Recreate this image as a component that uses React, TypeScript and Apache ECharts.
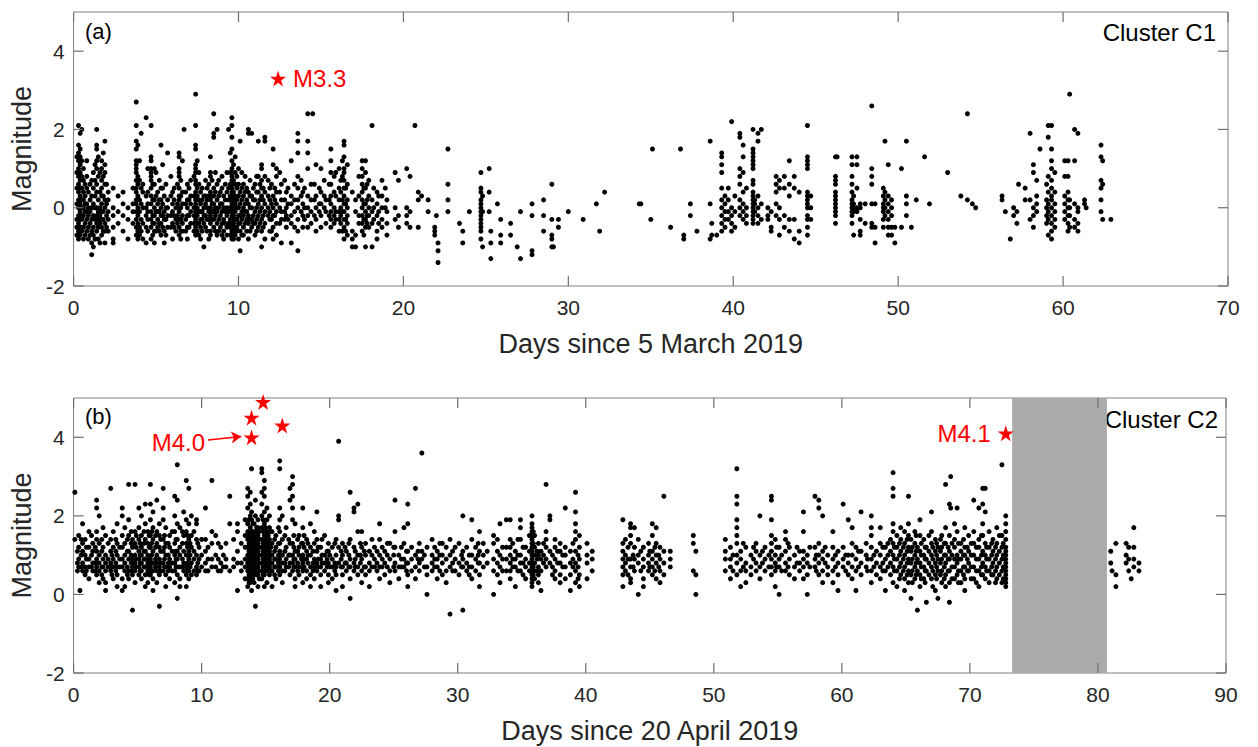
import React, { useEffect, useRef } from "react";
import * as echarts from "echarts";

// Each burst: [day, magnitude, magnitude, ...]
const burstsA: number[][] = [
  [0.2, 1.3, 0.9, 0.5, 0.1, -0.3, -0.5, -0.7],
  [0.3, 2.1, 1.6, 1.4, 1.2, 1.0, 0.8, 0.6, 0.4, 0.2, 0.0, -0.2, -0.4, -0.6, -0.8],
  [0.4, 1.9, 1.5, 1.3, 1.1, 0.9, 0.7, 0.5, 0.3, 0.1, -0.1, -0.3, -0.5, -0.7],
  [0.5, 2.0, 1.2, 0.8, 0.5, 0.2, 0.0, -0.2, -0.3, -0.5, -0.6],
  [0.6, 1.0, 0.7, 0.4, 0.2, 0.0, -0.2, -0.5, -0.8],
  [0.7, 0.6, 0.3, 0.1, -0.1, -0.4, -0.7],
  [0.8, 1.2, 0.8, 0.5, 0.1, -0.1, -0.3, -0.6],
  [0.9, 0.4, 0.0, -0.2, -0.5, -0.8],
  [1.0, 0.6, 0.2, -0.1, -0.4, -0.7],
  [1.1, 0.7, 0.3, 0.0, -0.3, -0.6, -0.9, -1.2],
  [1.2, 0.9, 0.5, 0.1, -0.2, -0.5, -0.7, -1.0],
  [1.3, 1.1, 0.7, 0.3, 0.0, -0.3, -0.8],
  [1.4, 2.0, 1.6, 1.5, 1.2, 1.0, 0.6, 0.4, 0.0, -0.2, -0.4, -0.6],
  [1.5, 1.3, 0.8, 0.2, -0.1, -0.3, -0.5, -0.8],
  [1.6, 0.9, 0.4, 0.0, -0.2, -0.4, -0.9],
  [1.7, 1.2, 1.0, 0.7, 0.5, 0.3, 0.1, -0.1, -0.3, -0.5, -0.7],
  [1.8, 1.4, 0.8, 0.3, -0.1, -0.3, -0.6],
  [1.9, 1.7, 1.1, 0.9, 0.6, 0.2, 0.0, -0.4, -0.6, -0.9],
  [2.0, 0.6, 0.1, -0.2, -0.5],
  [2.1, 0.4, 0.2, -0.1, -0.3, -0.6],
  [2.4, 0.5, 0.0, -0.2, -0.5, -0.8, -0.9],
  [2.7, 0.3, -0.1, -0.4],
  [3.0, 0.4, 0.1, -0.2, -0.6],
  [3.3, 0.0, -0.3, -0.8],
  [3.6, 0.5, 0.1, -0.1, -0.4],
  [3.8, 2.7, 2.1, 1.7, 1.5, 1.2, 1.1, 1.0, 0.9, 0.7, 0.5, 0.4, 0.2, 0.1, -0.1, -0.3, -0.5, -0.7],
  [3.9, 1.6, 0.8, 0.6, 0.3, 0.0, -0.2, -0.4, -0.6, -0.8],
  [4.0, 1.2, 0.7, 0.2, -0.1, -0.5, -0.7],
  [4.1, 1.9, 0.5, 0.1, -0.3, -0.6],
  [4.2, 0.6, 0.4, 0.0, -0.4, -0.8],
  [4.4, 2.3, 0.3, 0.0, -0.2, -0.5, -0.9],
  [4.5, 1.0, 0.4, 0.1, -0.1, -0.3, -0.6],
  [4.7, 2.1, 1.3, 1.2, 1.0, 0.9, 0.8, 0.7, 0.5, 0.3, 0.1, -0.1, -0.3, -0.5, -0.8],
  [4.8, 0.6, 0.2, -0.2, -0.4, -0.7],
  [4.9, 1.0, 0.6, 0.2, 0.0, -0.2, -0.4, -0.6, -0.9],
  [5.0, 0.9, 0.3, -0.1, -0.6],
  [5.1, 0.4, 0.1, -0.1, -0.3, -0.5],
  [5.2, 0.7, 0.2, -0.1, -0.4, -0.6],
  [5.3, 1.6, 0.5, 0.2, 0.0, -0.2, -0.4, -0.7],
  [5.4, 1.1, 0.5, 0.1, -0.2, -0.5],
  [5.5, 0.3, -0.1, -0.3, -0.6, -0.9],
  [5.6, 0.6, 0.0, -0.3, -0.7],
  [5.7, 1.4, 0.2, 0.0, -0.2, -0.5],
  [5.9, 0.8, 0.3, -0.2, -0.5],
  [6.0, 0.4, 0.1, -0.1, -0.4, -0.8],
  [6.1, 0.5, 0.2, -0.2, -0.5],
  [6.2, 0.0, -0.3, -0.6],
  [6.3, 0.6, 0.1, -0.2, -0.4],
  [6.4, 1.4, 1.3, 1.0, 0.9, 0.8, 0.5, 0.3, 0.2, 0.0, -0.1, -0.3, -0.5, -0.7],
  [6.5, 0.7, 0.3, 0.0, -0.3, -0.6, -0.8],
  [6.6, 1.2, 0.4, 0.1, -0.2, -0.4, -0.6],
  [6.7, 2.0],
  [6.8, 0.4, 0.1, -0.3, -0.6],
  [6.9, 0.6, 0.2, 0.0, -0.2, -0.5, -0.8],
  [7.0, 0.5, 0.2, -0.2, -0.5],
  [7.1, 0.7, 0.3, 0.1, -0.1, -0.4],
  [7.3, 0.8, 0.3, 0.0, -0.2, -0.4, -0.6],
  [7.4, 2.9, 2.1, 1.6, 1.5, 1.1, 1.0, 0.9, 0.7, 0.6, 0.4, 0.2, 0.1, -0.1, -0.3, -0.5, -0.7],
  [7.5, 1.2, 0.5, 0.3, 0.0, -0.2, -0.4, -0.6],
  [7.6, 0.9, 0.6, 0.2, -0.1, -0.4, -0.7],
  [7.7, 0.4, 0.1, -0.1, -0.3, -0.5, -0.8],
  [7.8, 0.5, 0.2, -0.1, -0.3, -0.6],
  [7.9, 0.3, 0.0, -0.2, -0.4, -1.0],
  [8.0, 0.7, 0.3, 0.1, -0.2, -0.5],
  [8.1, 0.5, 0.2, 0.0, -0.3, -0.6],
  [8.2, 0.6, 0.3, -0.1, -0.3, -0.8],
  [8.3, 1.3, 0.9, 0.8, 0.4, 0.2, 0.0, -0.2, -0.4, -0.6, -0.7],
  [8.4, 0.7, 0.3, 0.1, -0.1, -0.3],
  [8.5, 2.4, 1.9, 1.8, 0.5, 0.3, 0.1, -0.1, -0.3, -0.5],
  [8.6, 0.9, 0.4, 0.0, -0.2, -0.6],
  [8.7, 2.0, 0.6, 0.2, -0.1, -0.4, -0.7],
  [8.8, 0.7, 0.3, 0.0, -0.3, -0.6],
  [8.9, 0.4, 0.1, -0.2, -0.5],
  [9.0, 0.8, 0.5, 0.1, -0.1, -0.4, -0.7],
  [9.1, 0.3, 0.0, -0.3, -0.6, -0.8],
  [9.2, 0.6, 0.2, -0.1, -0.4],
  [9.3, 0.9, 0.4, 0.0, -0.2, -0.5, -0.7],
  [9.4, 2.0, 0.5, 0.2, -0.1, -0.4],
  [9.5, 1.4, 0.9, 0.6, 0.3, 0.0, -0.3, -0.5, -0.7],
  [9.6, 2.3, 2.1, 1.8, 1.5, 1.2, 1.0, 0.9, 0.8, 0.7, 0.6, 0.5, 0.4, 0.3, 0.2, 0.1, 0.0, -0.1, -0.2, -0.3, -0.4, -0.5, -0.6, -0.7, -0.8],
  [9.7, 1.1, 0.7, 0.4, 0.2, 0.0, -0.2, -0.4, -0.6, -0.8],
  [9.8, 1.3, 0.9, 0.6, 0.3, 0.1, -0.1, -0.3, -0.5, -0.7],
  [9.9, 0.8, 0.5, 0.2, 0.0, -0.3, -0.5, -0.6],
  [10.0, 1.0, 0.6, 0.3, 0.0, -0.2, -0.4, -0.8],
  [10.1, 1.7, 0.4, 0.1, -0.2, -0.4, -0.6, -1.1],
  [10.2, 0.9, 0.5, 0.2, -0.1, -0.3, -0.7],
  [10.3, 0.6, 0.3, 0.0, -0.2, -0.5, -0.7],
  [10.4, 0.8, 0.4, 0.1, -0.1, -0.4],
  [10.5, 0.5, 0.2, -0.1, -0.3, -0.6],
  [10.6, 2.0, 1.9, 0.4, 0.1, -0.2, -0.4, -0.8],
  [10.7, 0.7, 0.3, 0.0, -0.3, -0.6],
  [10.8, 1.9, 0.3, 0.0, -0.3, -0.5],
  [10.9, 0.5, 0.2, -0.2, -0.4],
  [11.0, 0.6, 0.2, -0.1, -0.4, -0.7],
  [11.1, 0.8, 0.4, 0.0, -0.3, -0.6],
  [11.2, 1.7, 0.8, 0.4, 0.1, -0.2, -0.5],
  [11.3, 0.6, 0.2, -0.1, -0.4],
  [11.4, 1.1, 1.0, 0.7, 0.5, 0.3, 0.0, -0.3, -0.6, -1.0],
  [11.5, 0.5, 0.2, -0.2, -0.5],
  [11.6, 1.8, 1.7, 0.8, 0.4, 0.1, -0.1, -0.4, -0.8],
  [11.8, 0.7, 0.3, 0.0, -0.2],
  [11.9, 0.5, 0.2, -0.1, -0.3, -0.6],
  [12.0, 0.6, 0.1, -0.3, -0.6],
  [12.1, 1.5, 1.1, 0.3, 0.0, -0.2, -0.5, -0.8],
  [12.2, 0.5, 0.2, -0.2],
  [12.3, 1.0, 0.8, 0.4, 0.1, -0.1, -0.4, -0.7],
  [12.5, 0.9, 0.4, 0.0, -0.4],
  [12.6, 0.6, 0.2, -0.1, -0.3, -0.9],
  [12.8, 0.7, 0.2, -0.1, -0.3],
  [12.9, 0.4, 0.0, -0.2, -0.5],
  [13.0, 0.5, 0.1, -0.3],
  [13.2, 1.2, 0.3, 0.1, -0.2, -0.4, -0.9],
  [13.4, 0.6, 0.2, -0.1, -0.5],
  [13.6, 1.9, 1.7, 1.4, 0.8, 0.5, 0.2, 0.0, -0.3, -0.6, -1.1],
  [13.8, 0.7, 0.3, -0.1],
  [13.9, 0.4, 0.1, -0.2, -0.5],
  [14.0, 0.5, 0.0, -0.3],
  [14.2, 2.4, 1.7, 1.4, 1.0, 0.3, 0.0, -0.2, -0.5],
  [14.4, 0.6, 0.2, -0.1, -0.4],
  [14.5, 2.4],
  [14.6, 0.6, 0.2, -0.2],
  [14.7, 1.1, 0.3, 0.0, -0.3, -0.6],
  [14.9, 0.5, 0.1, -0.1],
  [15.0, 1.0, 0.4, 0.1, -0.2, -0.5],
  [15.2, 0.7, 0.3, 0.0],
  [15.3, 0.2, -0.1, -0.4],
  [15.5, 0.6, 0.2, -0.2],
  [15.6, 1.5, 1.2, 0.9, 0.6, 0.3, 0.1, -0.1, -0.3, -0.5],
  [15.8, 0.8, 0.4, 0.0, -0.2, -0.4],
  [15.9, 0.9, 0.3, -0.1, -0.3],
  [16.1, 1.0, 0.5, 0.2, -0.1, -0.3, -0.6],
  [16.2, 0.7, 0.4, 0.0, -0.2, -0.4],
  [16.3, 1.2, 0.8, 0.2, -0.1, -0.6],
  [16.4, 1.7, 1.6, 1.3, 1.0, 0.9, 0.7, 0.5, 0.3, 0.1, -0.1, -0.3, -0.5, -0.8],
  [16.5, 0.5, 0.1, -0.3, -0.6],
  [16.6, 1.1, 0.6, 0.2, 0.0, -0.2, -0.4, -0.7],
  [16.9, 0.4, -0.6, -0.8, -1.0],
  [17.1, 0.2, -0.1, -0.7, -1.0],
  [17.3, 0.8, 0.3, -0.2, -0.4],
  [17.5, 1.2, 1.0, 0.8, 0.6, 0.4, 0.2, 0.0, -0.2, -0.4, -0.6],
  [17.6, 0.5, 0.1, -0.3, -0.7],
  [17.7, 1.2, 0.9, 0.5, 0.1, -0.1, -0.3, -0.5, -1.0],
  [17.8, 0.6, 0.2, -0.2, -0.4],
  [17.9, 0.7, 0.3, 0.0, -0.2, -0.5],
  [18.1, 2.1, 0.2, -0.1, -0.4, -1.0],
  [18.2, 0.5, 0.0, -0.3],
  [18.4, 0.4, 0.1, -0.2, -0.6, -0.8],
  [18.5, 0.3, -0.1, -0.4],
  [18.7, 0.7, 0.3, 0.0, -0.3, -0.5],
  [18.9, 0.5, 0.0],
  [19.0, 0.2, -0.1, -0.4, -0.7],
  [19.5, 0.9, 0.0, -0.3],
  [19.7, 0.7, -0.2, -0.5],
  [20.2, 1.0, 0.0, -0.2, -0.4],
  [20.4, 0.8, -0.1, -0.5],
  [20.7, 2.1],
  [20.9, 0.4, 0.2, -0.5],
  [21.1, 0.3],
  [21.5, 0.2, -0.1],
  [21.9, -0.5, -0.6, -0.7],
  [22.0, -0.2],
  [22.1, -0.9, -1.1, -1.4],
  [22.7, 1.5, 0.6, 0.2, -0.1],
  [23.4, -0.4],
  [23.6, -0.6, -0.9],
  [24.0, -0.1],
  [24.7, 0.9, 0.5, 0.4, 0.2, 0.1, 0.0, -0.1, -0.2, -0.3, -0.4, -0.5, -0.6, -0.8],
  [24.8, 0.3, -0.1, -1.0],
  [25.2, 1.0, 0.4, -0.1],
  [25.3, -0.6, -0.9, -1.3],
  [25.7, 0.1],
  [25.9, -0.3, -0.7, -0.9],
  [26.5, -0.4, -0.7],
  [26.9, -1.0],
  [27.1, -0.1, -1.3],
  [27.8, 0.1, -0.2, -1.1, -1.2],
  [28.5, 0.2, -0.2, -0.6],
  [29.0, 0.6, -0.3, -0.7, -0.8, -1.0],
  [29.1, -1.0],
  [29.4, -0.3, -0.5],
  [30.0, -0.1],
  [30.9, -0.3],
  [31.7, 0.1],
  [31.9, -0.6],
  [32.2, 0.4],
  [34.3, 0.1],
  [34.4, 0.1],
  [35.0, -0.3],
  [35.1, 1.5],
  [36.2, -0.5],
  [36.8, 1.5],
  [37.0, -0.7, -0.8],
  [37.4, 0.1, -0.2],
  [37.8, -0.6],
  [38.6, 1.7, 0.1, -0.8],
  [38.7, -0.4, -0.7],
  [39.0, -0.7],
  [39.3, 1.4, 1.3, 1.1, 0.9, 0.5, 0.2, 0.0, -0.2, -0.4, -0.6],
  [39.5, 0.3, 0.1, -0.1, -0.3, -0.5],
  [39.7, 0.5, 0.2, -0.1, -0.3],
  [39.9, 2.2, 0.0, -0.2, -0.4, -0.6],
  [40.1, 0.3, -0.1, -0.5],
  [40.4, 1.9, 1.8, 1.0, 0.8, 0.6, 0.2, 0.0, -0.2],
  [40.6, 1.6, 1.3, 0.9, 0.4, 0.1, -0.1, -0.3],
  [40.8, 0.5, 0.0, -0.2, -0.4],
  [41.2, 2.0, 1.5, 1.4, 1.3, 1.2, 1.1, 1.0, 0.7, 0.6, 0.4, 0.3, 0.2, 0.1, 0.0, -0.1, -0.2, -0.3, -0.4],
  [41.3, 0.2, 0.1, -0.1],
  [41.5, 1.9, 1.7, 0.3, 0.0, -0.2, -0.4],
  [41.7, 2.0, 0.1, -0.3],
  [42.1, 0.0, -0.2, -0.3],
  [42.3, -0.1, -0.5, -0.6],
  [42.6, 0.8, 0.6, 0.4, 0.1, -0.2],
  [42.8, 0.7, 0.5, 0.0, -0.3, -0.7],
  [43.1, 0.8, 0.5, -0.2, -0.5],
  [43.4, 1.2, 0.6, 0.3, -0.3, -0.6],
  [43.7, 0.8, 0.5, -0.3, -0.8],
  [44.0, 0.4, -0.6, -0.9],
  [44.5, 2.1, 1.3, 1.2, 1.1, 1.0, 0.4, 0.3, 0.2, 0.1, 0.0, -0.2, -0.3, -0.5, -0.7],
  [44.7, 0.3, 0.0, -0.3],
  [46.2, 1.3, 0.8, 0.7, 0.6, 0.4, 0.3, 0.2, 0.1, 0.0, -0.1, -0.2, -0.4],
  [46.3, 1.3],
  [47.2, 1.3, 1.1, 0.8, 0.6, 0.4, 0.2, 0.1, 0.0, -0.1, -0.2, -0.4],
  [47.3, 0.3, 0.1, 0.0, -0.1, -0.7],
  [47.5, 1.3, 1.1, 0.5, 0.0, -0.1],
  [47.7, 0.1, 0.0, -0.3, -0.6, -0.7],
  [48.0, 0.1, -0.4],
  [48.4, 2.6, 1.0, 0.8, 0.6, 0.1, -0.4, -0.5],
  [48.6, 0.1, -0.5, -0.9],
  [49.1, 0.5, 0.3, 0.1, 0.0, -0.1, -0.3, -0.5],
  [49.2, 1.7, 0.4, 0.2, 0.0, -0.2],
  [49.4, 1.1, 0.3, 0.1, -0.1, -0.3, -0.5, -0.7],
  [49.6, 0.2, 0.0, -0.2, -0.5, -0.7],
  [49.8, -0.5, -0.9],
  [50.2, 1.0, -0.5],
  [50.5, 1.7, 0.3, 0.1, -0.2],
  [50.8, -0.5],
  [51.1, 0.2],
  [51.6, 1.3],
  [51.9, 0.1],
  [53.0, 0.9],
  [53.8, 0.3],
  [54.2, 2.4, 0.2],
  [54.5, 0.1],
  [54.7, 0.0],
  [56.3, 0.3, 0.2],
  [56.5, -0.1],
  [56.8, -0.8],
  [57.0, 0.0, -0.2],
  [57.2, -0.1, -0.4],
  [57.3, 0.6],
  [57.7, 0.5, 0.2],
  [58.0, 1.9, 0.2, -0.3],
  [58.2, 1.1, 0.9, 0.0, -0.2, -0.5],
  [58.4, 0.7, 0.3, 0.1, -0.1],
  [58.6, 1.5],
  [59.0, 0.6, 0.2, 0.0, -0.2, -0.4],
  [59.1, 2.1, 1.8, 0.8, 0.4, 0.1, -0.1, -0.3, -0.7],
  [59.3, 2.1, 1.5, 1.2, 1.0, 0.7, 0.5, 0.3, 0.2, 0.0, -0.2, -0.4, -0.6, -0.8],
  [59.5, 0.9, 0.4, 0.1, -0.1, -0.3, -0.5],
  [60.1, 1.2, 0.8, 0.3, 0.1, -0.1, -0.3],
  [60.3, 1.2, 0.8, 0.4, 0.2, 0.0, -0.2, -0.4, -0.6],
  [60.4, 2.9, 0.2, 0.0, -0.2, -0.5],
  [60.7, 2.0, 1.2, 0.1, -0.3, -0.5],
  [60.9, 1.9, 0.0, -0.1, -0.4, -0.6],
  [61.3, 0.2, 0.1],
  [61.4, 0.0],
  [62.3, 1.6, 1.3, 0.7, 0.5, 0.2, -0.1],
  [62.4, 1.2, 0.6, -0.3],
  [62.9, -0.3],
];

const burstsB: number[][] = [
  [0.1, 2.6, 1.4],
  [0.3, 1.1, 0.8, 0.6],
  [0.4, 1.5, 1.2, 0.9, 0.7],
  [0.5, 0.1],
  [0.6, 1.4, 1.0, 0.7],
  [0.7, 1.8, 1.3, 1.1, 0.8, 0.6],
  [0.9, 1.4, 1.0, 0.7, 0.5],
  [1.0, 1.2, 0.9, 0.6],
  [1.2, 1.6, 1.2, 0.9, 0.7, 0.4],
  [1.4, 1.5, 1.0, 0.7],
  [1.5, 1.3, 1.1, 0.8, 0.6],
  [1.7, 1.2, 0.8, 0.6],
  [1.8, 2.4, 2.2, 1.6, 1.4, 1.1, 0.9, 0.7, 0.5],
  [2.0, 2.0, 1.3, 1.0, 0.8, 0.6, 0.3],
  [2.2, 1.4, 1.1, 0.7, 0.5],
  [2.3, 1.7, 1.2, 0.9, 0.7, 0.4],
  [2.5, 1.5, 1.0, 0.8, 0.6, 0.3, 0.1],
  [2.7, 1.3, 0.9, 0.7],
  [2.9, 2.7, 1.4, 1.1, 0.8, 0.6],
  [3.0, 1.0, 0.7, 0.5],
  [3.1, 1.6, 1.2, 0.9, 0.7, 0.4],
  [3.3, 1.4, 1.1, 0.8, 0.6],
  [3.4, 1.8, 1.3, 1.0, 0.7, 0.5, 0.2],
  [3.6, 1.2, 0.9, 0.7],
  [3.8, 2.2, 2.0, 1.5, 1.2, 0.9, 0.7, 0.4, 0.1],
  [4.0, 1.7, 1.3, 1.0, 0.8, 0.6, 0.2],
  [4.2, 1.4, 1.1, 0.7, 0.5],
  [4.3, 2.8, 1.9, 1.5, 1.1, 0.9, 0.6, 0.4],
  [4.5, 1.6, 1.3, 1.0, 0.8, 0.6],
  [4.6, 1.4, 1.2, 0.9, 0.7, 0.5, -0.4],
  [4.8, 2.8, 1.6, 1.3, 1.0, 0.8, 0.6, 0.3],
  [4.9, 1.5, 1.2, 0.9, 0.7],
  [5.1, 2.2, 1.7, 1.4, 1.1, 0.9, 0.7, 0.5],
  [5.2, 1.3, 1.0, 0.8, 0.6],
  [5.3, 2.0, 1.5, 1.2, 1.0, 0.8, 0.6, 0.4],
  [5.5, 1.6, 1.3, 1.1, 0.9, 0.7],
  [5.6, 2.3, 1.8, 1.4, 1.1, 0.9, 0.7, 0.5, 0.2],
  [5.8, 1.6, 1.3, 1.0, 0.8, 0.6, 0.3],
  [5.9, 1.5, 1.2, 0.9, 0.7, 0.5],
  [6.0, 2.8, 2.3, 1.9, 1.5, 1.2, 0.9, 0.7, 0.5],
  [6.1, 1.6, 1.3, 1.0, 0.8, 0.6],
  [6.2, 2.1, 1.7, 1.4, 1.1, 0.8, 0.6, 0.4, 0.1],
  [6.4, 1.5, 1.2, 0.9, 0.7],
  [6.5, 2.4, 1.6, 1.3, 1.0, 0.8, 0.6, 0.3],
  [6.7, 1.8, 1.5, 1.2, 0.9, 0.7, 0.5, -0.3],
  [6.8, 1.4, 1.1, 0.8, 0.6],
  [7.0, 2.7, 2.2, 1.9, 1.4, 1.1, 0.8, 0.6],
  [7.1, 1.5, 1.2, 0.9, 0.7],
  [7.2, 1.7, 1.3, 1.0, 0.7, 0.5, 0.2],
  [7.4, 1.3, 1.0, 0.8, 0.6],
  [7.5, 1.5, 1.2, 0.9, 0.7, 0.4],
  [7.7, 1.6, 1.1, 0.8, 0.6],
  [7.9, 2.5, 2.0, 1.6, 1.3, 1.0, 0.8, 0.6, 0.3],
  [8.0, 1.4, 1.1, 0.9, 0.7],
  [8.1, 3.3, 2.4, 1.8, 1.4, 1.1, 0.9, 0.7, 0.5, -0.1],
  [8.3, 1.7, 1.2, 1.0, 0.7, 0.4, 0.2],
  [8.5, 1.6, 1.3, 0.9, 0.7],
  [8.6, 2.1, 1.5, 1.1, 0.8, 0.6],
  [8.8, 2.9, 1.9, 1.6, 1.3, 1.0, 0.7, 0.5, 0.2],
  [8.9, 1.5, 1.2, 0.8, 0.6],
  [9.0, 2.7, 1.8, 1.4, 1.1, 0.9, 0.6, 0.4],
  [9.1, 1.3, 1.0, 0.7],
  [9.2, 2.0, 1.5, 1.2, 0.8, 0.5],
  [9.4, 1.6, 1.1, 0.9, 0.6],
  [9.6, 1.9, 1.8, 1.4, 1.0, 0.7, 0.5],
  [9.7, 1.3, 0.8, 0.6],
  [9.8, 1.2, 0.9, 0.6],
  [10.0, 1.4, 1.0, 0.7],
  [10.3, 2.2, 1.4, 1.1, 0.8, 0.6],
  [10.5, 1.2, 0.9, 0.6],
  [10.8, 2.9, 1.6, 1.3, 0.9, 0.7],
  [11.1, 1.5, 1.0, 0.7],
  [11.3, 1.3, 0.9, 0.6],
  [11.5, 1.2, 0.8, 0.6],
  [11.7, 1.0, 0.7],
  [11.9, 1.3, 0.9, 0.7],
  [12.2, 2.5, 1.8, 0.6],
  [12.5, 1.4, 0.9, 0.7],
  [12.8, 1.8, 1.6, 1.1, 0.8, 0.1],
  [13.1, 1.3, 0.8, 0.6],
  [13.4, 1.9, 1.5, 1.2, 0.9, 0.7, 0.4],
  [13.6, 2.7, 2.5, 2.2, 1.8, 1.6, 1.4, 1.2, 1.0, 0.8, 0.6, 0.4, 0.2],
  [13.7, 1.9, 1.5, 1.3, 1.1, 0.9, 0.7, 0.5, 0.3],
  [13.8, 2.6, 2.3, 2.0, 1.7, 1.5, 1.3, 1.1, 0.9, 0.7, 0.5, 0.3],
  [13.9, 3.2, 2.1, 1.9, 1.6, 1.4, 1.2, 1.0, 0.8, 0.6, 0.4, 0.1],
  [14.0, 1.8, 1.6, 1.4, 1.2, 1.0, 0.8, 0.6, 0.4],
  [14.1, 1.8, 1.5, 1.3, 1.1, 0.9, 0.7, 0.5, 0.3],
  [14.2, 2.4, 2.0, 1.6, 1.4, 1.2, 1.0, 0.8, 0.6, -0.3],
  [14.3, 1.7, 1.5, 1.3, 1.1, 0.9, 0.7, 0.5],
  [14.4, 1.9, 1.7, 1.5, 1.3, 1.1, 0.9, 0.7, 0.5, 0.2],
  [14.5, 1.6, 1.4, 1.2, 1.0, 0.8, 0.6, 0.4],
  [14.7, 3.2, 3.1, 2.6, 2.3, 2.0, 1.7, 1.4, 1.2, 1.0, 0.8, 0.6, 0.4],
  [14.8, 1.9, 1.6, 1.3, 1.1, 0.9, 0.7, 0.5],
  [14.9, 2.9, 2.7, 2.5, 2.1, 1.8, 1.5, 1.3, 1.1, 0.9, 0.7, 0.5, 0.2],
  [15.0, 1.7, 1.4, 1.2, 1.0, 0.8, 0.6],
  [15.1, 2.2, 1.9, 1.6, 1.4, 1.2, 1.0, 0.8, 0.6, 0.3],
  [15.2, 1.5, 1.3, 1.1, 0.9, 0.7],
  [15.3, 2.0, 1.7, 1.4, 1.1, 0.9, 0.7, 0.5],
  [15.4, 1.6, 1.2, 1.0, 0.8, 0.6],
  [15.5, 1.6, 1.3, 1.0, 0.8, 0.6, 0.2],
  [15.7, 1.4, 1.1, 0.9, 0.7, 0.5],
  [15.8, 1.5, 1.2, 0.9, 0.7, 0.4],
  [16.0, 1.7, 1.3, 1.0, 0.8, 0.6],
  [16.1, 3.4, 3.2, 2.2, 1.9, 1.6, 1.3, 1.1, 0.9, 0.7, 0.5],
  [16.3, 2.0, 1.4, 1.0, 0.8, 0.6, 0.3],
  [16.5, 1.5, 1.1, 0.8, 0.6],
  [16.6, 1.7, 1.2, 0.9, 0.7],
  [16.8, 1.4, 1.0, 0.7],
  [16.9, 2.7, 2.4, 1.3, 1.0, 0.8, 0.5],
  [17.1, 3.0, 2.8, 2.5, 2.2, 1.9, 1.3, 1.0, 0.8, 0.6],
  [17.2, 1.5, 1.2, 0.9, 0.7],
  [17.3, 1.8, 1.1, 0.9, 0.7, 0.4, 0.2],
  [17.5, 1.4, 1.1, 0.8, 0.6],
  [17.6, 1.5, 1.2, 1.0, 0.7, 0.5],
  [17.8, 1.3, 0.9, 0.7],
  [17.9, 2.2, 1.7, 1.3, 1.0, 0.8, 0.6, 0.3],
  [18.0, 1.5, 1.2, 0.9, 0.7],
  [18.2, 1.4, 1.1, 0.9, 0.6, 0.4],
  [18.3, 1.3, 1.0, 0.8],
  [18.5, 1.8, 1.2, 1.0, 0.7, 0.5, 0.2],
  [18.7, 1.1, 0.8, 0.6],
  [18.8, 1.6, 1.3, 0.9, 0.7, 0.4],
  [19.0, 2.1, 1.4, 1.1, 0.8, 0.6],
  [19.1, 1.2, 0.9, 0.7],
  [19.3, 1.2, 0.9, 0.7, 0.5, 0.2],
  [19.4, 1.4, 1.0, 0.8],
  [19.6, 1.5, 1.0, 0.8, 0.6],
  [19.8, 1.1, 0.9, 0.7],
  [19.9, 1.3, 1.1, 0.8, 0.5, 0.3],
  [20.0, 1.0, 0.7],
  [20.2, 1.2, 0.9, 0.7, 0.4],
  [20.4, 1.3, 0.8, 0.6],
  [20.5, 1.4, 1.0, 0.7, 0.5, 0.1],
  [20.7, 3.9, 2.0, 1.9, 1.2, 0.8],
  [20.9, 1.1, 0.9, 0.7],
  [21.0, 1.3, 1.0, 0.7, 0.5, 0.2],
  [21.2, 1.2, 0.8],
  [21.3, 1.1, 0.8, 0.6],
  [21.5, 1.3, 1.0, 0.7],
  [21.6, 2.6, 1.4, 0.9, 0.7, 0.4, -0.1],
  [21.9, 2.2, 2.1, 1.2, 0.8, 0.6],
  [22.0, 1.1, 0.9, 0.7],
  [22.2, 2.3, 1.6, 1.0, 0.7, 0.5],
  [22.4, 1.3, 1.0, 0.8],
  [22.5, 1.6, 1.2, 0.9, 0.6, 0.3],
  [22.7, 1.1, 0.7],
  [22.8, 1.3, 1.0, 0.7, 0.5],
  [23.1, 1.1, 0.8, 0.6, 0.2],
  [23.3, 1.4, 1.0, 0.7],
  [23.5, 1.2, 0.9, 0.7],
  [23.7, 1.1, 0.8, 0.6],
  [23.9, 1.8, 1.4, 1.0, 0.7, 0.4],
  [24.1, 1.2, 0.9, 0.7],
  [24.3, 1.1, 0.8, 0.5],
  [24.5, 1.3, 1.0, 0.7],
  [24.7, 1.3, 0.9, 0.6, 0.3],
  [25.0, 1.2, 1.0, 0.7],
  [25.1, 2.4, 1.6, 1.2, 0.8, 0.6],
  [25.4, 1.0, 0.7, 0.4],
  [25.6, 1.2, 0.9, 0.7],
  [25.8, 1.7, 1.3, 0.9, 0.7],
  [26.0, 1.1, 0.8, 0.6],
  [26.1, 2.3, 1.8, 1.1, 0.8, 0.5, 0.2],
  [26.4, 1.2, 0.9, 0.6],
  [26.7, 2.7, 1.0, 0.7, 0.4],
  [26.9, 1.1, 0.9],
  [27.0, 1.3, 0.8, 0.6],
  [27.2, 3.6, 1.1, 0.9],
  [27.4, 1.0, 0.7],
  [27.6, 1.2, 0.7, 0.5, 0.0],
  [28.0, 1.4, 1.0, 0.8, 0.6],
  [28.2, 1.2, 0.9, 0.7],
  [28.4, 1.1, 0.9, 0.7, 0.4],
  [28.6, 1.3, 1.0, 0.6],
  [28.8, 1.3, 1.0, 0.8, 0.5],
  [29.1, 1.2, 0.9, 0.6, 0.3],
  [29.4, 1.4, 1.0, 0.7, -0.5],
  [29.6, 1.1, 0.8, 0.6],
  [29.8, 1.2, 0.9, 0.6],
  [30.1, 1.3, 0.8, 0.5],
  [30.3, 1.0, 0.7],
  [30.4, 2.0, 1.1, 0.9, 0.7, -0.4],
  [30.7, 1.2, 0.8, 0.6],
  [30.9, 1.0, 0.7, 0.5],
  [31.1, 1.9, 1.4, 1.0, 0.7, 0.4],
  [31.4, 1.2, 0.9, 0.6],
  [31.6, 1.3, 1.0, 0.8],
  [31.7, 1.6, 1.1, 0.8, 0.5, 0.2],
  [32.0, 1.3, 1.0, 0.7],
  [32.3, 1.1, 0.8],
  [32.8, 1.5, 1.3, 0.9, 0.6, 0.0],
  [33.1, 1.4, 1.1, 0.8, 0.5],
  [33.3, 1.8, 1.0, 0.7, 0.3],
  [33.5, 1.2, 0.9, 0.6],
  [33.8, 1.9, 1.2, 0.9, 0.6],
  [34.1, 1.9, 1.4, 1.2, 1.0, 0.8, 0.6, 0.4],
  [34.3, 1.3, 0.9, 0.7],
  [34.5, 1.1, 0.9, 0.7, 0.2],
  [34.7, 1.4, 1.0, 0.6],
  [34.9, 1.9, 1.7, 1.4, 1.0, 0.8, 0.6],
  [35.1, 1.2, 0.8, 0.5],
  [35.3, 1.2, 0.9, 0.7, 0.4],
  [35.6, 1.5, 1.1, 0.8, 0.6],
  [35.8, 2.0, 1.8, 1.7, 1.6, 1.5, 1.4, 1.3, 1.2, 1.1, 1.0, 0.9, 0.8, 0.7, 0.6, 0.5, 0.4, 0.3, 0.2],
  [35.9, 1.6, 1.3, 1.0, 0.7, 0.5],
  [36.0, 1.5, 1.2, 1.0, 0.8, 0.6, 0.4],
  [36.2, 1.1, 0.9, 0.6],
  [36.3, 1.3, 1.0, 0.7, 0.5, 0.3],
  [36.5, 1.1, 0.9, 0.6, 0.1],
  [36.7, 1.3, 1.0, 0.8],
  [36.9, 2.8, 1.6, 1.4, 1.2, 0.9, 0.7],
  [37.2, 2.0, 1.9, 1.1, 0.8],
  [37.4, 1.0, 0.7, 0.5],
  [37.6, 1.4, 1.2, 0.9, 0.6, 0.4],
  [37.8, 1.1, 0.8],
  [38.0, 1.3, 1.1, 0.8, 0.5, 0.3],
  [38.2, 1.0, 0.7],
  [38.4, 2.2, 1.2, 1.0, 0.7, 0.4],
  [38.8, 1.1, 0.8, 0.5, 0.1],
  [39.0, 1.3, 0.9, 0.7],
  [39.2, 2.6, 2.1, 1.8, 1.6, 1.4, 1.1, 0.8, 0.6, 0.3],
  [39.4, 1.0, 0.7, 0.4],
  [39.5, 1.5, 1.2, 0.9, 0.5, 0.2],
  [40.1, 1.3, 1.0, 0.8, 0.4],
  [40.5, 1.1, 0.9, 0.6],
  [42.9, 1.9, 1.3, 1.1, 0.9, 0.7, 0.5, 0.2],
  [43.1, 1.4, 1.0, 0.8, 0.6],
  [43.3, 1.2, 0.9, 0.5],
  [43.5, 1.8, 1.7, 1.5, 1.3, 0.9, 0.7, 0.4, 0.3],
  [43.7, 1.0, 0.7],
  [43.8, 1.7, 1.2, 0.9, 0.6],
  [44.1, 1.4, 1.0, 0.8, 0.0],
  [44.3, 1.1, 0.6],
  [44.5, 1.2, 0.9, 0.7, 0.4, 0.2],
  [44.9, 1.3, 1.0, 0.8, 0.6],
  [45.0, 1.1, 0.7],
  [45.2, 1.8, 1.5, 1.1, 0.9, 0.7, 0.5],
  [45.4, 1.2, 0.6],
  [45.5, 1.7, 1.3, 1.0, 0.8, 0.4],
  [45.7, 1.0, 0.7],
  [45.8, 1.2, 0.9, 0.6, 0.3],
  [46.1, 2.5, 1.1, 0.8, 0.5],
  [46.6, 1.1, 0.9, 0.7],
  [48.4, 1.5, 1.3, 0.6],
  [48.6, 1.1, 0.5, 0.0],
  [50.9, 1.4, 1.1, 0.9, 0.6],
  [51.3, 1.2, 0.9, 0.7, 0.4],
  [51.5, 1.0, 0.6],
  [51.8, 3.2, 2.5, 2.3, 1.9, 1.7, 1.5, 1.3, 1.0, 0.8, 0.5],
  [52.1, 1.1, 0.9, 0.6, 0.2],
  [52.3, 1.3, 0.7],
  [52.5, 1.2, 0.8, 0.6, 0.3],
  [52.9, 1.0, 0.7, 0.5],
  [53.1, 1.2, 0.9],
  [53.3, 1.3, 1.1, 0.8, 0.6],
  [53.6, 2.0, 1.0, 0.7, 0.4],
  [53.8, 1.1, 0.8],
  [54.0, 1.2, 0.9, 0.6],
  [54.3, 1.0, 0.7],
  [54.5, 2.5, 2.4, 1.9, 1.5, 1.3, 1.1, 0.9, 0.7, 0.5],
  [54.8, 1.4, 1.0, 0.8, 0.6, 0.2],
  [54.9, 1.2, 0.7],
  [55.1, 1.2, 0.9, 0.7, 0.0],
  [55.3, 1.0, 0.6],
  [55.6, 1.6, 1.4, 1.1, 0.8, 0.6],
  [55.8, 1.3, 0.7],
  [55.9, 1.2, 0.9, 0.5],
  [56.3, 1.0, 0.7, 0.4],
  [56.5, 1.2, 0.8],
  [56.7, 1.1, 0.8, 0.6],
  [57.0, 2.1, 1.6, 1.1, 0.9, 0.7, 0.4],
  [57.3, 1.0, 0.8, 0.5, 0.0],
  [57.5, 1.2, 0.7],
  [57.9, 2.5, 1.2, 0.9, 0.7],
  [58.0, 1.0, 0.6],
  [58.2, 2.4, 2.2, 1.3, 1.0, 0.8, 0.5],
  [58.5, 2.0, 1.1, 0.9, 0.6, 0.3],
  [58.7, 1.2, 0.8],
  [58.9, 1.0, 0.7, 0.5],
  [59.3, 1.6, 1.2, 0.9, 0.6, 0.3],
  [59.5, 1.0, 0.7],
  [59.7, 1.1, 0.8, 0.5, 0.1],
  [60.1, 2.3, 1.2, 0.9, 0.7],
  [60.3, 1.0, 0.6],
  [60.5, 1.9, 1.0, 0.8, 0.5],
  [60.8, 1.7, 1.3, 1.0, 0.7, 0.4],
  [61.1, 1.2, 0.9, 0.6, 0.1],
  [61.3, 1.1, 0.7],
  [61.5, 2.1, 1.1, 0.8, 0.5],
  [61.9, 1.3, 1.0, 0.7],
  [62.0, 0.9, 0.6],
  [62.3, 2.0, 1.7, 1.5, 1.2, 0.9, 0.6, 0.3],
  [62.5, 1.0, 0.7],
  [62.7, 1.1, 0.8, 0.5],
  [63.0, 1.7, 1.3, 1.0, 0.7, 0.4],
  [63.2, 1.2, 0.8, 0.6],
  [63.4, 1.2, 0.9, 0.6, 0.1],
  [63.6, 1.3, 1.0, 0.7],
  [63.8, 1.4, 1.1, 0.8, 0.5],
  [64.0, 3.1, 2.7, 2.5, 1.8, 1.6, 1.3, 1.0, 0.7, 0.3],
  [64.1, 1.2, 0.9, 0.6],
  [64.3, 1.5, 1.2, 0.9, 0.6, 0.2],
  [64.5, 1.3, 1.0, 0.7, 0.4],
  [64.6, 1.7, 1.4, 1.1, 0.8, 0.5],
  [64.8, 1.2, 0.9, 0.6],
  [64.9, 1.6, 1.3, 1.0, 0.7, 0.4, 0.1],
  [65.1, 1.4, 1.1, 0.8, 0.5],
  [65.2, 2.5, 1.8, 1.5, 1.2, 0.9, 0.6, 0.3],
  [65.4, 1.4, 1.1, 0.8, 0.5, -0.1],
  [65.5, 1.2, 0.9, 0.6, 0.3],
  [65.7, 1.6, 1.3, 1.0, 0.7, 0.4],
  [65.8, 1.5, 1.1, 0.8, 0.5],
  [65.9, 1.2, 0.9, 0.6, -0.4],
  [66.1, 1.9, 1.5, 1.1, 0.8, 0.5, 0.2],
  [66.2, 1.3, 1.0, 0.7, 0.4],
  [66.4, 1.4, 1.0, 0.7, 0.4],
  [66.5, 1.2, 0.9, 0.6, 0.3],
  [66.6, 1.2, 0.9, 0.6, -0.2],
  [66.8, 1.5, 1.1, 0.8, 0.5],
  [67.0, 2.1, 1.6, 1.3, 1.0, 0.7, 0.4],
  [67.1, 1.2, 0.9, 0.6, 0.2],
  [67.3, 1.4, 1.1, 0.8, 0.5, 0.1],
  [67.4, 1.3, 1.0, 0.7, 0.4],
  [67.5, 1.2, 0.9, 0.6, -0.1],
  [67.7, 1.4, 1.1, 0.8, 0.5],
  [67.8, 1.5, 1.2, 0.9, 0.6, 0.3],
  [68.0, 1.3, 1.0, 0.7, 0.4],
  [68.1, 2.8, 1.7, 1.3, 1.0, 0.8, 0.5, 0.2],
  [68.3, 1.2, 0.9, 0.6],
  [68.4, 2.3, 1.5, 1.1, 0.9, 0.6, 0.3, -0.2],
  [68.5, 3.0, 2.2],
  [68.6, 1.3, 1.0, 0.7, 0.4],
  [68.8, 1.8, 1.4, 1.2, 0.9, 0.7, 0.4],
  [69.0, 2.2, 1.6, 1.0, 0.8, 0.5],
  [69.1, 1.3, 0.9, 0.6, 0.3],
  [69.3, 1.3, 1.1, 0.9, 0.6, 0.3],
  [69.5, 1.4, 1.0, 0.7, 0.5],
  [69.6, 1.7, 1.2, 1.0, 0.7, 0.4, 0.1],
  [69.8, 1.2, 0.9, 0.6],
  [69.9, 1.5, 1.1, 0.8, 0.6],
  [70.1, 1.3, 1.0, 0.7, 0.4],
  [70.3, 2.4, 1.6, 1.3, 1.0, 0.7, 0.4],
  [70.5, 1.2, 0.9, 0.6, 0.3],
  [70.7, 2.2, 1.4, 1.2, 0.9, 0.6, 0.2],
  [70.9, 1.5, 1.0, 0.7, 0.5],
  [71.0, 2.7, 2.3, 1.8, 1.5, 1.1, 0.8, 0.5],
  [71.2, 2.7, 2.1, 1.3, 1.0, 0.7, 0.4],
  [71.3, 1.2, 0.9, 0.6],
  [71.5, 1.6, 1.2, 0.9, 0.6, 0.3],
  [71.7, 1.3, 1.0, 0.7, 0.5],
  [71.8, 1.4, 1.1, 0.8, 0.5],
  [72.0, 1.2, 0.9, 0.6, 0.3],
  [72.1, 1.7, 1.3, 1.0, 0.7, 0.4],
  [72.3, 1.5, 1.1, 0.8, 0.5],
  [72.5, 3.3, 1.5, 1.2, 0.9, 0.6, 0.3],
  [72.6, 1.3, 1.0, 0.7, 0.4],
  [72.8, 2.0, 1.8, 1.6, 1.4, 1.2, 1.1, 1.0, 0.9, 0.8, 0.7, 0.6, 0.5, 0.4, 0.3, 0.2],
  [81.0, 1.1, 0.8],
  [81.1, 0.6],
  [81.4, 1.3, 0.5, 0.2],
  [82.2, 1.3, 1.0, 0.8],
  [82.4, 1.2, 0.9, 0.6],
  [82.6, 0.4],
  [82.8, 1.7, 1.2, 0.9, 0.7],
  [83.2, 0.8, 0.6],
];

// Large events [day, magnitude, label]
const mainA: [number, number, string][] = [[12.4, 3.3, "M3.3"]];
const mainB: [number, number, string][] = [
  [13.9, 4.0, ""],
  [13.9, 4.5, ""],
  [14.8, 4.9, ""],
  [16.3, 4.3, ""],
  [72.8, 4.1, "M4.1"],
];
const gapB = [73.3, 80.7]; // data gap (shaded)
const arrowB = [[10.5, 3.93], [13.1, 4.02]];

// Axis ranges and tick values
const xRangeA = [0, 70];
const xRangeB = [0, 90];
const yRange = [-2, 5];
const xTickValsA = [0, 10, 20, 30, 40, 50, 60, 70];
const xTickValsB = [0, 10, 20, 30, 40, 50, 60, 70, 80, 90];
const yTickVals = [-2, 0, 2, 4];

const FONT = 'Helvetica, "Liberation Sans", Arial, sans-serif';
const GRAY = "#808080";
const TICK = "#6e6e6e";
const TXT = "#262626";
const STAR =
  "path://M50,0 L61.2,34.5 L97.6,34.5 L68.2,55.9 L79.4,90.5 L50,69.1 L20.6,90.5 L31.8,55.9 L2.4,34.5 L38.8,34.5 Z";

const flatten = (b: number[][]) =>
  b.flatMap(([d, ...ms]) => ms.map((m) => [d, m]));

export default function App() {
  const ref = useRef<HTMLDivElement>(null);
  useEffect(() => {
    document.body.style.margin = "0";
    const chart = echarts.init(ref.current!, null, { renderer: "svg" });

    const xAxisFor = (grid: number, r: number[], name: string) => ({
      type: "value",
      gridIndex: grid,
      min: r[0],
      max: r[1],
      interval: 10,
      position: "bottom",
      name,
      nameLocation: "middle",
      nameGap: 44,
      nameTextStyle: { fontSize: 27, color: TXT, fontFamily: FONT },
      axisLine: { show: false, onZero: false },
      axisTick: { show: false },
      axisLabel: { fontSize: 21, color: TXT, margin: 11, fontFamily: FONT },
      splitLine: { show: false },
    });
    const yAxisFor = (grid: number) => ({
      type: "value",
      gridIndex: grid,
      min: yRange[0],
      max: yRange[1],
      interval: 2,
      position: "left",
      name: "Magnitude",
      nameLocation: "middle",
      nameGap: 36,
      nameTextStyle: { fontSize: 27, color: TXT, fontFamily: FONT },
      axisLine: { show: false, onZero: false },
      axisTick: { show: false },
      axisLabel: {
        fontSize: 21,
        color: TXT,
        margin: 9,
        fontFamily: FONT,
        formatter: (v: number) => (v > 4.5 ? "" : String(v)),
      },
      splitLine: { show: false },
    });

    const starSeries = (idx: number, data: [number, number, string][], extra: any = {}) => ({
      type: "scatter",
      xAxisIndex: idx,
      yAxisIndex: idx,
      symbol: STAR,
      symbolSize: 16,
      itemStyle: { color: "#ff0000", opacity: 1 },
      z: 5,
      data: data.map(([d, m, l]) => ({
        value: [d, m],
        label: l
          ? {
              show: true,
              formatter: l,
              position: d > 50 ? "left" : "right",
              distance: 7,
              color: "#ff0000",
              fontSize: 24,
              fontFamily: FONT,
            }
          : { show: false },
      })),
      ...extra,
    });

    const dots = () => ({ symbolSize: 5, itemStyle: { color: "#000", opacity: 1 } });

    const texts: any[] = [
      { type: "text", left: 85, top: 20, style: { text: "(a)", fontSize: 22, fill: "#000", fontFamily: FONT } },
      { type: "text", right: 42, top: 20, style: { text: "Cluster C1", fontSize: 24, fill: "#000", fontFamily: FONT } },
      { type: "text", left: 85, top: 405, style: { text: "(b)", fontSize: 22, fill: "#000", fontFamily: FONT } },
      { type: "text", right: 40, top: 407, style: { text: "Cluster C2", fontSize: 24, fill: "#000", fontFamily: FONT } },
      { type: "text", x: 205, y: 442, style: { text: "M4.0", fontSize: 24, fill: "#ff0000", fontFamily: FONT, align: "right", verticalAlign: "middle" } },
    ];

    chart.setOption({
      animation: false,
      textStyle: { fontFamily: FONT },
      grid: [
        { left: 73, top: 12, width: 1155, height: 274, show: true, borderColor: GRAY, borderWidth: 1, backgroundColor: "transparent" },
        { left: 73, top: 398, width: 1153, height: 275, show: true, borderColor: GRAY, borderWidth: 1, backgroundColor: "transparent" },
      ],
      xAxis: [xAxisFor(0, xRangeA, "Days since 5 March 2019"), xAxisFor(1, xRangeB, "Days since 20 April 2019")],
      yAxis: [yAxisFor(0), yAxisFor(1)],
      series: [
        { type: "scatter", xAxisIndex: 0, yAxisIndex: 0, ...dots(), data: flatten(burstsA) },
        starSeries(0, mainA),
        {
          type: "scatter",
          xAxisIndex: 1,
          yAxisIndex: 1,
          ...dots(),
          data: flatten(burstsB),
          markArea: {
            silent: true,
            itemStyle: { color: "#aaaaaa", opacity: 1 },
            data: [[{ xAxis: gapB[0] }, { xAxis: gapB[1] }]],
          },
        },
        starSeries(1, mainB, {
          markLine: {
            silent: true,
            symbol: ["none", "arrow"],
            symbolSize: [9, 10],
            lineStyle: { color: "#ff0000", width: 1.5, type: "solid" },
            label: { show: false },
            data: [[{ coord: arrowB[0] }, { coord: arrowB[1] }]],
          },
        }),
      ],
      graphic: texts,
    });

    // inward ticks on all four sides (thin filled rects), positioned through each grid's scales
    const L = 10;
    const W = 1.2;
    const tickEls: any[] = [];
    const rect = (x: number, y: number, w: number, h: number) => ({
      type: "rect",
      silent: true,
      z: 10,
      shape: { x, y, width: w, height: h },
      style: { fill: TICK },
    });
    const addTicks = (gi: number, xVals: number[], xr: number[]) => {
      const toPx = (p: number[]) => chart.convertToPixel({ gridIndex: gi } as any, p) as number[];
      xVals.forEach((v) => {
        const b = toPx([v, yRange[0]]);
        const t = toPx([v, yRange[1]]);
        tickEls.push(rect(b[0] - W / 2, b[1] - L, W, L));
        tickEls.push(rect(t[0] - W / 2, t[1], W, L));
      });
      yTickVals.forEach((v) => {
        const l = toPx([xr[0], v]);
        const r = toPx([xr[1], v]);
        tickEls.push(rect(l[0], l[1] - W / 2, L, W));
        tickEls.push(rect(r[0] - L, r[1] - W / 2, L, W));
      });
    };
    try {
      addTicks(0, xTickValsA, xRangeA);
      addTicks(1, xTickValsB, xRangeB);
      if (tickEls.length) chart.setOption({ graphic: [...texts, ...tickEls] });
    } catch (e) {
      // keep the chart without the extra ticks if conversion fails
    }
    return () => chart.dispose();
  }, []);
  return <div ref={ref} style={{ width: 1258, height: 747 }} />;
}
